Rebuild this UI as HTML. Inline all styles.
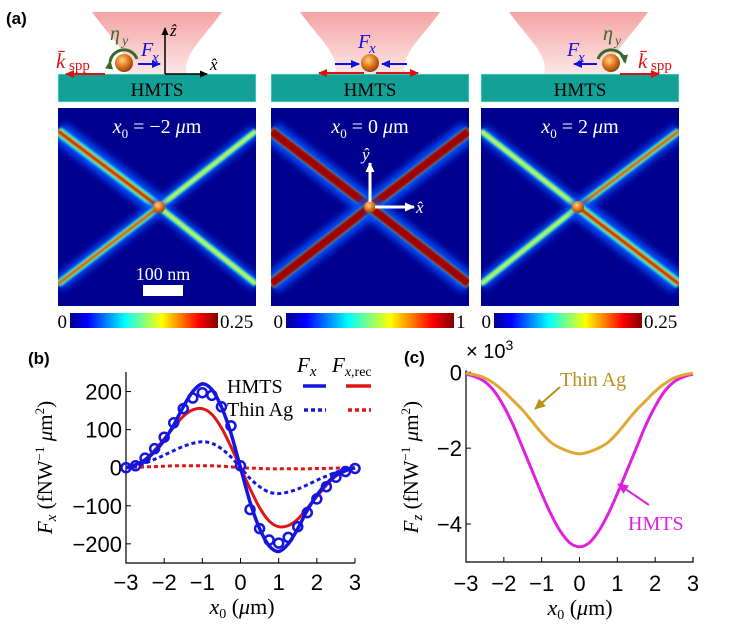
<!DOCTYPE html>
<html><head><meta charset="utf-8">
<style>
html,body{margin:0;padding:0;background:#fff;}
svg{display:block;font-family:"Liberation Sans",sans-serif;}
.serif{font-family:"Liberation Serif",serif;}
</style></head>
<body>
<svg id="fig" width="738" height="625" viewBox="0 0 738 625" xmlns="http://www.w3.org/2000/svg">
<defs>
  <linearGradient id="jet" x1="0" x2="1" y1="0" y2="0">
    <stop offset="0" stop-color="#00008f"/><stop offset="0.12" stop-color="#0000ff"/>
    <stop offset="0.37" stop-color="#00ffff"/><stop offset="0.62" stop-color="#ffff00"/>
    <stop offset="0.87" stop-color="#ff0000"/><stop offset="1" stop-color="#800000"/>
  </linearGradient>
  <radialGradient id="ball" cx="0.4" cy="0.35" r="0.7">
    <stop offset="0" stop-color="#ffd08a"/><stop offset="0.5" stop-color="#e07a20"/><stop offset="1" stop-color="#8a3a05"/>
  </radialGradient>
  <linearGradient id="beam" x1="0" x2="0" y1="0" y2="1">
    <stop offset="0" stop-color="#f49a9a"/><stop offset="1" stop-color="#fde3e3"/>
  </linearGradient>
  <filter id="blur3" x="-20%" y="-20%" width="140%" height="140%"><feGaussianBlur stdDeviation="3.5"/></filter>
  <filter id="blur1"><feGaussianBlur stdDeviation="1"/></filter>
  <marker id="ahR" markerUnits="userSpaceOnUse" markerWidth="9" markerHeight="8" refX="8" refY="4" orient="auto"><path d="M0,0 L9,4 L0,8z" fill="#e01010"/></marker>
  <marker id="ahB" markerUnits="userSpaceOnUse" markerWidth="9" markerHeight="8" refX="8" refY="4" orient="auto"><path d="M0,0 L9,4 L0,8z" fill="#1010e0"/></marker>
  <marker id="ahK" markerUnits="userSpaceOnUse" markerWidth="8" markerHeight="7" refX="7" refY="3.5" orient="auto"><path d="M0,0 L8,3.5 L0,7z" fill="#000"/></marker>
  <marker id="ahW" markerUnits="userSpaceOnUse" markerWidth="10" markerHeight="9" refX="9" refY="4.5" orient="auto"><path d="M0,0 L10,4.5 L0,9z" fill="#fff"/></marker>
  <marker id="ahG" markerUnits="userSpaceOnUse" markerWidth="9" markerHeight="8" refX="7" refY="4" orient="auto"><path d="M0,0 L9,4 L0,8z" fill="#3a6a2a"/></marker>
  <marker id="ahY" markerUnits="userSpaceOnUse" markerWidth="11" markerHeight="10" refX="10" refY="5" orient="auto"><path d="M0,0 L11,5 L0,10z" fill="#b8901a"/></marker>
  <marker id="ahM" markerUnits="userSpaceOnUse" markerWidth="11" markerHeight="10" refX="10" refY="5" orient="auto"><path d="M0,0 L11,5 L0,10z" fill="#e020e0"/></marker>
</defs>
<g id="panelA"></g>
<g id="panelB"></g>
<g id="panelC"></g>
</svg>
<script>
// ---- Panel (b) data ----
const xB = [-3,-2.75,-2.5,-2.25,-2,-1.75,-1.5,-1.25,-1,-0.75,-0.5,-0.25,0,0.25,0.5,0.75,1,1.25,1.5,1.75,2,2.25,2.5,2.75,3];
const hmtsFx = [0,8,20,42,72,112,160,200,220,205,160,90,0,-90,-160,-205,-220,-200,-160,-112,-72,-42,-20,-8,0];
const hmtsRec = [0,8,22,46,76,106,135,152,155,140,105,55,0,-55,-105,-140,-155,-152,-135,-106,-76,-46,-22,-8,0];
const agFx = [0,4,12,22,33,45,56,64,68,64,50,28,0,-28,-50,-64,-68,-64,-56,-45,-33,-22,-12,-4,0];
const agRec = [0,1,2,3,4,5,5,5,5,5,4,2,0,-1,-2,-3,-3,-3,-3,-3,-2,-2,-1,-1,0];
const markX = [-3,-2.75,-2.5,-2.25,-2,-1.75,-1.5,-1.25,-1,-0.75,-0.5,-0.25,0,0.25,0.5,0.75,1,1.25,1.5,1.75,2,2.25,2.5,2.75,3];
const markY = [0,5,25,50,80,118,155,183,197,190,160,110,5,-110,-160,-190,-198,-183,-155,-118,-82,-50,-25,-10,-2];
const yTicksB = [200,100,0,-100,-200];
const xTicks = [-3,-2,-1,0,1,2,3];
// ---- Panel (c) data ----
const xC = [-3,-2.75,-2.5,-2.25,-2,-1.75,-1.5,-1.25,-1,-0.75,-0.5,-0.25,0,0.25,0.5,0.75,1,1.25,1.5,1.75,2,2.25,2.5,2.75,3];
const hmtsFz = [-0.05,-0.12,-0.25,-0.5,-0.9,-1.4,-2.0,-2.6,-3.2,-3.75,-4.2,-4.5,-4.6,-4.5,-4.2,-3.75,-3.2,-2.6,-2.0,-1.4,-0.9,-0.5,-0.25,-0.12,-0.05];
const agFz = [-0.02,-0.07,-0.15,-0.3,-0.5,-0.75,-1.0,-1.3,-1.6,-1.85,-2.0,-2.1,-2.15,-2.1,-2.0,-1.85,-1.6,-1.3,-1.0,-0.75,-0.5,-0.3,-0.15,-0.07,-0.02];
const yTicksC = [0,-2,-4];

const NS = "http://www.w3.org/2000/svg";
function mk(parent, tag, attrs, text){
  const e = document.createElementNS(NS, tag);
  for (const k in attrs) e.setAttribute(k, attrs[k]);
  if (text !== undefined) e.textContent = text;
  parent.appendChild(e); return e;
}
function pathFrom(xs, ys, sx, sy){
  const P = xs.map((x,k)=>[sx(x), sy(ys[k])]);
  let d = 'M'+P[0][0].toFixed(1)+','+P[0][1].toFixed(1);
  for (let k=0;k<P.length-1;k++){
    const p0=P[Math.max(k-1,0)], p1=P[k], p2=P[k+1], p3=P[Math.min(k+2,P.length-1)];
    const c1=[p1[0]+(p2[0]-p0[0])/6, p1[1]+(p2[1]-p0[1])/6];
    const c2=[p2[0]-(p3[0]-p1[0])/6, p2[1]-(p3[1]-p1[1])/6];
    d += ` C${c1[0].toFixed(1)},${c1[1].toFixed(1)} ${c2[0].toFixed(1)},${c2[1].toFixed(1)} ${p2[0].toFixed(1)},${p2[1].toFixed(1)}`;
  }
  return d;
}

// ================= Panel A =================
const A = document.getElementById('panelA');
const lab = mk(A,'text',{x:6,y:24,'font-size':17,'font-weight':'bold'},'(a)');



const panels = [
  {x:58, beamL:92, beamR:222, ball:124, label:'−2', cmax:'0.25', arrowDir:-1},
  {x:271, beamL:300, beamR:440, ball:370, label:'0', cmax:'1', arrowDir:0},
  {x:481, beamL:509, beamR:648, ball:611, label:'2', cmax:'0.25', arrowDir:1}
];
panels.forEach((p,i)=>{
  const g = mk(A,'g',{});
  
  
  const cx = p.x+99;
  const bm = mk(g,'path',{d:`M${p.beamL},12 L${p.beamR},12 C${p.beamR-20},40 ${p.beamR-40},55 ${p.beamR-35},74 L${p.beamL+35},74 C${p.beamL+40},55 ${p.beamL+20},40 ${p.beamL},12 Z`, fill:'url(#beam)', opacity:0.9});
  
  
  const bar = mk(g,'rect',{x:p.x,y:74,width:198,height:28,fill:'#13a096',stroke:'#bfe','stroke-width':0.6});
  
  
  const bt = mk(g,'text',{x:cx,y:96,'font-size':19,'text-anchor':'middle',class:'serif',fill:'#000'},'HMTS');
  
  
  const ball = mk(g,'circle',{cx:p.ball,cy:63,r:9,fill:'url(#ball)'});
  
  
  if (p.arrowDir===-1){
    mk(g,'line',{x1:105,y1:74,x2:66,y2:74,stroke:'#e01010','stroke-width':2,'marker-end':'url(#ahR)'});
    mk(g,'line',{x1:138,y1:64,x2:160,y2:64,stroke:'#1010e0','stroke-width':2,'marker-end':'url(#ahB)'});
    mk(g,'text',{x:56,y:68,'font-size':21,fill:'#e01010',class:'serif','font-style':'italic'},'k̄');
    mk(g,'text',{x:69,y:70,'font-size':15,fill:'#e01010',class:'serif'},'spp');
    mk(g,'text',{x:141,y:56,'font-size':20,fill:'#1010e0',class:'serif','font-style':'italic'},'F');
    mk(g,'text',{x:152,y:62,'font-size':15,fill:'#1010e0',class:'serif','font-style':'italic'},'x');
    mk(g,'text',{x:110,y:40,'font-size':20,fill:'#3a6a2a',class:'serif','font-style':'italic'},'η');
    mk(g,'text',{x:122,y:45,'font-size':14,fill:'#3a6a2a',class:'serif','font-style':'italic'},'y');
    mk(g,'path',{d:'M110,62 A14,14 0 0 1 137,59',fill:'none',stroke:'#3a6a2a','stroke-width':3,'marker-start':'url(#ahG)'});
    mk(g,'line',{x1:165,y1:74,x2:165,y2:28,stroke:'#000','stroke-width':1.5,'marker-end':'url(#ahK)'});
    mk(g,'line',{x1:165,y1:74,x2:207,y2:74,stroke:'#000','stroke-width':1.5,'marker-end':'url(#ahK)'});
    mk(g,'text',{x:170,y:36,'font-size':17,class:'serif','font-style':'italic'},'ẑ');
    mk(g,'text',{x:210,y:70,'font-size':17,class:'serif','font-style':'italic'},'x̂');
  } else if (p.arrowDir===0){
    mk(g,'line',{x1:364,y1:73,x2:319,y2:73,stroke:'#e01010','stroke-width':2,'marker-end':'url(#ahR)'});
    mk(g,'line',{x1:376,y1:73,x2:418,y2:73,stroke:'#e01010','stroke-width':2,'marker-end':'url(#ahR)'});
    mk(g,'line',{x1:335,y1:64,x2:359,y2:64,stroke:'#1010e0','stroke-width':2,'marker-end':'url(#ahB)'});
    mk(g,'line',{x1:407,y1:64,x2:382,y2:64,stroke:'#1010e0','stroke-width':2,'marker-end':'url(#ahB)'});
    mk(g,'text',{x:358,y:48,'font-size':20,fill:'#1010e0',class:'serif','font-style':'italic'},'F');
    mk(g,'text',{x:369,y:53,'font-size':15,fill:'#1010e0',class:'serif','font-style':'italic'},'x');
  } else {
    mk(g,'line',{x1:620,y1:74,x2:659,y2:74,stroke:'#e01010','stroke-width':2,'marker-end':'url(#ahR)'});
    mk(g,'line',{x1:597,y1:64,x2:574,y2:64,stroke:'#1010e0','stroke-width':2,'marker-end':'url(#ahB)'});
    mk(g,'text',{x:567,y:56,'font-size':20,fill:'#1010e0',class:'serif','font-style':'italic'},'F');
    mk(g,'text',{x:578,y:62,'font-size':15,fill:'#1010e0',class:'serif','font-style':'italic'},'x');
    mk(g,'text',{x:603,y:40,'font-size':20,fill:'#3a6a2a',class:'serif','font-style':'italic'},'η');
    mk(g,'text',{x:615,y:45,'font-size':14,fill:'#3a6a2a',class:'serif','font-style':'italic'},'y');
    mk(g,'path',{d:'M598,59 A14,14 0 0 1 625,62',fill:'none',stroke:'#3a6a2a','stroke-width':3,'marker-end':'url(#ahG)'});
    mk(g,'text',{x:638,y:68,'font-size':21,fill:'#e01010',class:'serif','font-style':'italic'},'k̄');
    mk(g,'text',{x:651,y:70,'font-size':15,fill:'#e01010',class:'serif'},'spp');
  }
  // heatmap
  const hx=p.x, hy=108, hw=198, hh=198;
  const hm = mk(g,'g',{});
  
  
  mk(hm,'rect',{x:hx,y:hy,width:hw,height:hh,fill:'#00008f'});
  const clip = mk(hm,'clipPath',{id:'clip'+i}); mk(clip,'rect',{x:hx,y:hy,width:hw,height:hh});
  const lines = mk(hm,'g',{'clip-path':`url(#clip${i})`});
  const ccx = hx+hw/2+ (i===0?2:(i===2?-2:0)), ccy = 207;
  const ends = [[hx,131, i===0?1:(i===2?0.5:1)],[hx,284, i===0?0.6:(i===2?0.45:1)],[hx+hw,131,i===0?0.45:(i===2?0.6:1)],[hx+hw,284,i===0?0.5:(i===2?1:1)]];
  ends.forEach(e=>{
    const s=e[2];
    mk(lines,'line',{x1:e[0],y1:e[1],x2:ccx,y2:ccy,stroke:'#0050ff','stroke-width':16*s+6,filter:'url(#blur3)',opacity:0.9});
    mk(lines,'line',{x1:e[0],y1:e[1],x2:ccx,y2:ccy,stroke:'#20e8e8','stroke-width':7*s+3,filter:'url(#blur1)'});
    mk(lines,'line',{x1:e[0],y1:e[1],x2:ccx,y2:ccy,stroke:'#e8f030','stroke-width':4*s+1,filter:'url(#blur1)'});
    if (s>0.55) mk(lines,'line',{x1:e[0],y1:e[1],x2:ccx,y2:ccy,stroke: i===1?'#a00000':'#c81000','stroke-width':i===1?9:3*s,filter:'url(#blur1)'});
  });
  mk(hm,'circle',{cx:ccx,cy:ccy,r:6,fill:'url(#ball)'});
  const t = mk(g,'text',{x:cx,y:133,'font-size':20,fill:'#fff',class:'serif','text-anchor':'middle'});
  
  
  t.innerHTML = `<tspan font-style="italic">x</tspan><tspan font-size="13" dy="5">0</tspan><tspan dy="-5"> = ${p.label} </tspan><tspan font-style="italic">μ</tspan>m`;
  if (i===0){
    mk(g,'text',{x:163,y:280,'font-size':18,fill:'#fff',class:'serif','text-anchor':'middle'},'100 nm');
    const sb=mk(g,'rect',{x:143,y:285,width:40,height:11,fill:'#fff'});
    
    
  }
  if (i===1){
    mk(g,'line',{x1:370,y1:202,x2:370,y2:163,stroke:'#fff','stroke-width':3,'marker-end':'url(#ahW)'});
    mk(g,'line',{x1:375,y1:207,x2:414,y2:207,stroke:'#fff','stroke-width':3,'marker-end':'url(#ahW)'});
    mk(g,'text',{x:362,y:160,'font-size':17,fill:'#fff',class:'serif','font-style':'italic'},'ŷ');
    mk(g,'text',{x:416,y:213,'font-size':17,fill:'#fff',class:'serif','font-style':'italic'},'x̂');
  }
  const cb = mk(g,'g',{});
  
  
  const bx = i===1?286:(i===0?70:494), bw = i===1?168:148;
  mk(cb,'rect',{x:bx,y:313,width:bw,height:15,fill:'url(#jet)'});
  mk(cb,'text',{x:bx-3,y:328,'font-size':19,class:'serif','text-anchor':'end'},'0');
  mk(cb,'text',{x:bx+bw+2,y:328,'font-size':19,class:'serif'},p.cmax);
});

// ================= Panel B =================
const B = document.getElementById('panelB');
const bxL=126, bxR=355, by0=467.7, byS=(544-391.7)/400, byTop=372, byBot=563;
const sxB = v => bxL + (v+3)/6*(bxR-bxL);
const syB = v => by0 - v*byS;
const lb = mk(B,'text',{x:28,y:364,'font-size':17,'font-weight':'bold'},'(b)');


const axB = mk(B,'path',{d:`M${bxL},${byTop} L${bxL},${byBot} L${bxR},${byBot}`,fill:'none',stroke:'#000','stroke-width':1.2});


yTicksB.forEach(v=>{
  mk(B,'line',{x1:bxL,y1:syB(v),x2:bxL+5,y2:syB(v),stroke:'#000'});
  const t=mk(B,'text',{x:bxL-4,y:syB(v)+8,'font-size':22,'text-anchor':'end'},String(v).replace('-','−'));
  
  
});
xTicks.forEach(v=>{
  mk(B,'line',{x1:sxB(v),y1:byBot,x2:sxB(v),y2:byBot-5,stroke:'#000'});
  const t=mk(B,'text',{x:sxB(v),y:byBot+27,'font-size':22,'text-anchor':'middle'},String(v).replace('-','−'));
  
  
});
const s1=mk(B,'path',{d:pathFrom(xB,agRec,sxB,syB),fill:'none',stroke:'#e01515','stroke-width':3,'stroke-dasharray':'4 3'});


const s2=mk(B,'path',{d:pathFrom(xB,agFx,sxB,syB),fill:'none',stroke:'#1515e0','stroke-width':3,'stroke-dasharray':'4 3'});


const s3=mk(B,'path',{d:pathFrom(xB,hmtsRec,sxB,syB),fill:'none',stroke:'#e01515','stroke-width':3});


const s4=mk(B,'path',{d:pathFrom(xB,hmtsFx,sxB,syB),fill:'none',stroke:'#1515e0','stroke-width':3.5});


markX.forEach((x,k)=>{
  const c=mk(B,'circle',{cx:sxB(x),cy:syB(markY[k]),r:4.5,fill:'none',stroke:'#1515e0','stroke-width':2.5});
  
  
});
const yl=mk(B,'text',{transform:`translate(52,${(byTop+byBot)/2}) rotate(-90)`,'font-size':21,'text-anchor':'middle',class:'serif'});


yl.innerHTML='<tspan font-style="italic">F</tspan><tspan font-style="italic" font-size="15" dy="4">x</tspan><tspan dy="-4">  (fNW</tspan><tspan font-size="13" dy="-8">−1</tspan><tspan dy="8"> </tspan><tspan font-style="italic">μ</tspan><tspan>m</tspan><tspan font-size="13" dy="-8">2</tspan><tspan dy="8">)</tspan>';
const xl=mk(B,'text',{x:242,y:614,'font-size':22,'text-anchor':'middle',class:'serif'});


xl.innerHTML='<tspan font-style="italic">x</tspan><tspan font-size="14" dy="4">0</tspan><tspan dy="-4"> (</tspan><tspan font-style="italic">μ</tspan>m)';
const lg=mk(B,'g',{});


const lh=mk(lg,'text',{x:297,y:372,'font-size':21,class:'serif','font-style':'italic'});
lh.innerHTML='F<tspan font-size="15" dy="4">x</tspan>';
const lh2=mk(lg,'text',{x:332,y:372,'font-size':21,class:'serif','font-style':'italic'});
lh2.innerHTML='F<tspan font-size="14" dy="4">x,</tspan><tspan font-style="normal" font-size="14">rec</tspan>';
mk(lg,'text',{x:227,y:393,'font-size':20,class:'serif'},'HMTS');
mk(lg,'text',{x:227,y:416,'font-size':20,class:'serif'},'Thin Ag');
mk(lg,'line',{x1:303,y1:386,x2:326,y2:386,stroke:'#1515e0','stroke-width':3.5});
mk(lg,'line',{x1:346,y1:386,x2:371,y2:386,stroke:'#e01515','stroke-width':3.5});
mk(lg,'line',{x1:304,y1:410,x2:326,y2:410,stroke:'#1515e0','stroke-width':3.5,'stroke-dasharray':'4 3'});
mk(lg,'line',{x1:348,y1:410,x2:371,y2:410,stroke:'#e01515','stroke-width':3.5,'stroke-dasharray':'4 3'});

// ================= Panel C =================
const C = document.getElementById('panelC');
const cxL=466, cxR=693, cyTop=372.3, cyBot=562;
const sxC = v => cxL + (v+3)/6*(cxR-cxL);
const syC = v => cyTop - v*(524-372.3)/4;
const lc = mk(C,'text',{x:404,y:363,'font-size':17,'font-weight':'bold'},'(c)');


const mult=mk(C,'text',{x:466,y:358,'font-size':20});


mult.innerHTML='× 10<tspan font-size="14" dy="-8">3</tspan>';
const axC=mk(C,'path',{d:`M${cxL},${cyTop-2} L${cxL},${cyBot} L${cxR},${cyBot} L${cxR},${cyBot-5}`,fill:'none',stroke:'#000','stroke-width':1.2});


yTicksC.forEach(v=>{
  mk(C,'line',{x1:cxL,y1:syC(v),x2:cxL+5,y2:syC(v),stroke:'#000'});
  const t=mk(C,'text',{x:cxL-4,y:syC(v)+8,'font-size':22,'text-anchor':'end'},String(v).replace('-','−'));
  
  
});
xTicks.forEach(v=>{
  mk(C,'line',{x1:sxC(v),y1:cyBot,x2:sxC(v),y2:cyBot-5,stroke:'#000'});
  const t=mk(C,'text',{x:sxC(v),y:cyBot+29,'font-size':22,'text-anchor':'middle'},String(v).replace('-','−'));
  
  
});
const c1=mk(C,'path',{d:pathFrom(xC,hmtsFz,sxC,syC),fill:'none',stroke:'#e020e0','stroke-width':3});


const c2=mk(C,'path',{d:pathFrom(xC,agFz,sxC,syC),fill:'none',stroke:'#e0a830','stroke-width':3});


const a1=mk(C,'text',{x:560,y:386,'font-size':20,fill:'#b8901a',class:'serif'},'Thin Ag');


mk(C,'line',{x1:560,y1:387,x2:535,y2:409,stroke:'#b8901a','stroke-width':2,'marker-end':'url(#ahY)'});
const a2=mk(C,'text',{x:628,y:530,'font-size':20,fill:'#e020e0',class:'serif'},'HMTS');


mk(C,'line',{x1:649,y1:505,x2:618,y2:484,stroke:'#e020e0','stroke-width':2,'marker-end':'url(#ahM)'});
const ylc=mk(C,'text',{transform:`translate(418,${(cyTop+cyBot)/2}) rotate(-90)`,'font-size':21,'text-anchor':'middle',class:'serif'});


ylc.innerHTML='<tspan font-style="italic">F</tspan><tspan font-style="italic" font-size="15" dy="4">z</tspan><tspan dy="-4">  (fNW</tspan><tspan font-size="13" dy="-8">−1</tspan><tspan dy="8"> </tspan><tspan font-style="italic">μ</tspan><tspan>m</tspan><tspan font-size="13" dy="-8">2</tspan><tspan dy="8">)</tspan>';
const xlc=mk(C,'text',{x:580,y:615,'font-size':22,'text-anchor':'middle',class:'serif'});


xlc.innerHTML='<tspan font-style="italic">x</tspan><tspan font-size="14" dy="4">0</tspan><tspan dy="-4"> (</tspan><tspan font-style="italic">μ</tspan>m)';
</script>
</body></html>
